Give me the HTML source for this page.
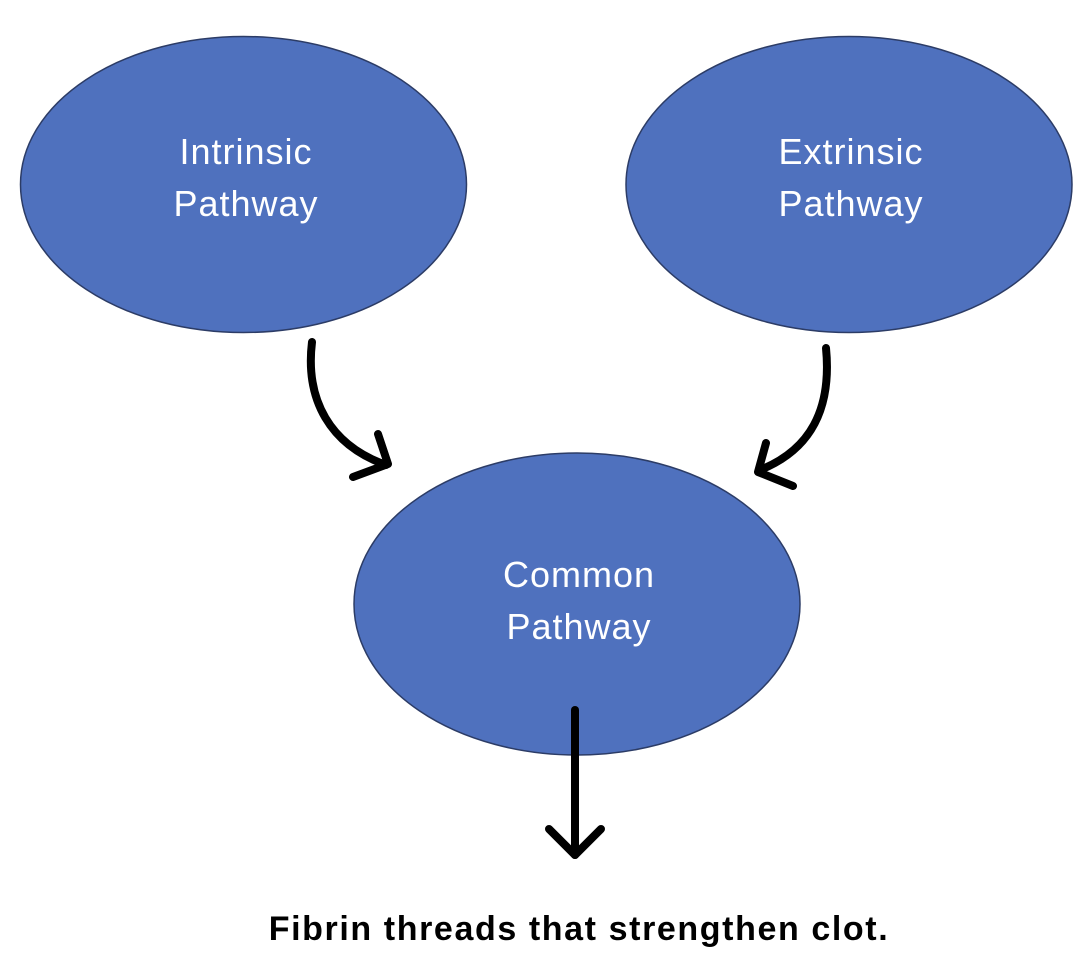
<!DOCTYPE html>
<html><head><meta charset="utf-8"><style>
html,body{margin:0;padding:0;background:#fff;}
svg{display:block;}
</style></head><body>
<svg width="1092" height="974" viewBox="0 0 1092 974" xmlns="http://www.w3.org/2000/svg">
<g fill="#4F71BE" stroke="#2C3C66" stroke-width="1.5">
<ellipse cx="243.5" cy="184.5" rx="223" ry="148"/>
<ellipse cx="849" cy="184.5" rx="223" ry="148"/>
<ellipse cx="577" cy="604" rx="223" ry="151"/>
</g>
<g fill="#fff" font-family="Liberation Sans, sans-serif" font-size="36" letter-spacing="1" text-anchor="middle">
<text x="246" y="164">Intrinsic</text>
<text x="246" y="216">Pathway</text>
<text x="851" y="164">Extrinsic</text>
<text x="851" y="216">Pathway</text>
<text x="579" y="587">Common</text>
<text x="579" y="639">Pathway</text>
</g>
<g fill="none" stroke="#000" stroke-width="8" stroke-linecap="round" stroke-linejoin="round">
<path d="M312 342 C305 400 330 445 386 465"/>
<path d="M378 434 L388 464 L353 477"/>
<path d="M826 348 C832 410 810 450 760 470"/>
<path d="M766 443 L758 472 L793 486"/>
<path d="M575 710 L575 855"/>
<path d="M549 829 L575 855 L601 829"/>
</g>
<text x="579" y="940" font-family="Liberation Sans, sans-serif" font-weight="bold" font-size="34" letter-spacing="1.6" text-anchor="middle" fill="#000">Fibrin threads that strengthen clot.</text>
</svg>
</body></html>
